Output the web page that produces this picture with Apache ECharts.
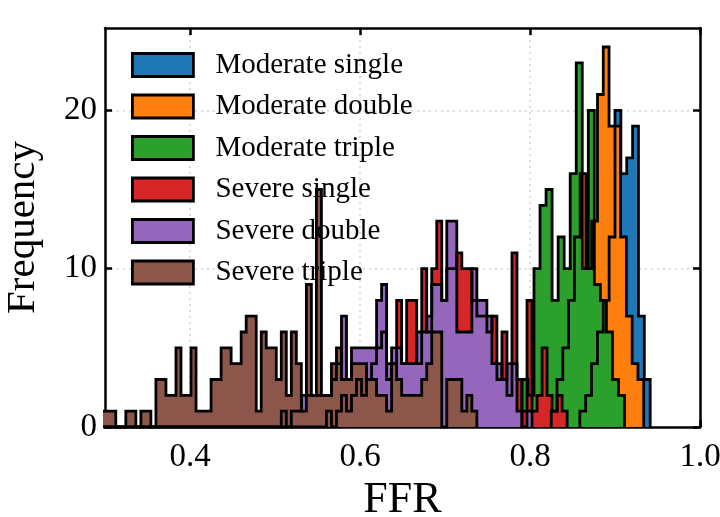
<!DOCTYPE html>
<html><head><meta charset="utf-8">
<script src="https://cdn.jsdelivr.net/npm/echarts@6/dist/echarts.min.js"></script>
<style>html,body{margin:0;padding:0;background:#fff}#c{width:720px;height:517px}</style>
</head><body><div id="c"></div>
<script>
// ---- data ----
const seriesNames = ['Moderate single','Moderate double','Moderate triple','Severe single','Severe double','Severe triple'];
const seriesColors = ['#1f77b4','#ff7f0e','#2ca02c','#d62728','#9467bd','#8c564b'];
const xTicks = [0.4, 0.6, 0.8, 1.0];
const yTicks = [0, 10, 20];

// Moderate single (bin start, bin width, counts)
const modSingleStart = 0.8586, modSingleWidth = 0.0069;
const modSingleCounts = [1, 2, 4, 6, 8, 12, 20, 16, 17, 19, 7, 3];
// Moderate double
const modDoubleStart = 0.8250, modDoubleWidth = 0.0068;
const modDoubleCounts = [1, 3, 5, 8, 12, 16, 10, 13, 21, 24, 19, 19, 12, 7, 4, 3];
// Moderate triple
const modTripleStart = 0.7905, modTripleWidth = 0.0071;
const modTripleCounts = [3, 2, 10, 14, 15, 8, 12, 10, 16, 23, 10, 20, 9, 8, 6, 3, 2];
// Severe bins (shared)
const sevStart = 0.2950, sevWidth = 0.0059;
const sevSingleCounts = [
  0,0,0,0,0,0,0,0,0,0, 0,0,0,0,0,0,0,0,0,0,
  0,0,0,0,0,0,0,0,0,0, 0,0,0,0,0,0,0,0,0,0,
  0,0,0,0,0,1,0,1,2,1, 2,3,2,3,4,5,6,3,4,8,
  4,8,8,4,10,6,10,13,8,10, 10,11,10,10,8,7,7,6,7,3,
  6,2,11,3,1,8,1,2,5,2, 1,2,1];
const sevDoubleCounts = [
  0,0,0,0,0,0,0,0,0,0, 0,0,0,0,0,0,0,0,0,0,
  0,0,0,0,0,0,0,0,0,0, 0,0,0,0,0,0,1,0,1,1,
  2,2,2,2,2,2,3,4,7,3, 5,5,5,5,5,8,9,4,5,5,
  4,4,4,6,6,7,9,9,8,13, 13,6,6,6,10,8,8,7,4,4,
  3,4,4,1,0,1];
const sevTripleCounts = [
  1,1,1,0,0,1,1,0,1,1, 0,3,3,2,2,5,2,2,5,1,
  1,1,3,3,5,5,4,4,6,7, 7,1,6,5,5,3,6,2,6,4,
  1,9,2,15,2,2,4,5,3,3, 4,4,4,3,3,2,2,1,4,3,
  2,2,2,2,3,4,6,6,0,3, 3,3,1,2,1];

// ---- build stepfilled outlines from bins ----
function stepPath(start, width, counts) {
  const edge = i => +(start + i * width).toFixed(5);
  const pts = [[edge(0), 0]];
  counts.forEach((c, i) => { pts.push([edge(i), c], [edge(i + 1), c]); });
  pts.push([edge(counts.length), 0]);
  return pts;
}
const paths = [
  stepPath(modSingleStart, modSingleWidth, modSingleCounts),
  stepPath(modDoubleStart, modDoubleWidth, modDoubleCounts),
  stepPath(modTripleStart, modTripleWidth, modTripleCounts),
  stepPath(sevStart, sevWidth, sevSingleCounts),
  stepPath(sevStart, sevWidth, sevDoubleCounts),
  stepPath(sevStart, sevWidth, sevTripleCounts)
];

const FONT = 'Liberation Serif';
const axisLineStyle = { color: '#000', width: 2.5 };
const gridLine = { show: true, lineStyle: { type: [2, 4], color: '#d4d4d4', width: 1.6 } };

const chart = echarts.init(document.getElementById('c'), null, { renderer: 'canvas' });
chart.setOption({
  animation: false,
  backgroundColor: '#fff',
  grid: { left: 105, right: 20, top: 28, bottom: 90, containLabel: false, outerBoundsMode: 'none' },
  legend: {
    orient: 'vertical', left: 126, top: 45.5, icon: 'rect',
    itemWidth: 61, itemHeight: 23, itemGap: 12.5,
    selectedMode: false,
    itemStyle: { borderColor: '#000', borderWidth: 2.8 },
    textStyle: { fontFamily: FONT, fontSize: 29, color: '#000', lineHeight: 29, padding: [0, 0, 0, 17] },
    data: seriesNames.map((n, i) => ({ name: n, itemStyle: { color: seriesColors[i], borderColor: '#000', borderWidth: 2.8 } }))
  },
  xAxis: [{
    type: 'value', min: 0.3, max: 1.0, position: 'bottom',
    axisLine: { show: true, onZero: false, lineStyle: axisLineStyle },
    axisTick: { show: true, inside: true, length: 7, lineStyle: axisLineStyle, customValues: xTicks },
    axisLabel: { customValues: xTicks, formatter: v => v.toFixed(1), fontFamily: FONT, fontSize: 33, color: '#000', margin: 14 },
    splitLine: gridLine,
    name: 'FFR', nameLocation: 'middle', nameGap: 47,
    nameTextStyle: { fontFamily: FONT, fontSize: 44, color: '#000' }
  }, {
    type: 'value', min: 0.3, max: 1.0, position: 'top',
    axisLine: { show: true, onZero: false, lineStyle: axisLineStyle },
    axisTick: { show: true, inside: true, length: 7, lineStyle: axisLineStyle, customValues: xTicks },
    axisLabel: { show: false }, splitLine: { show: false }
  }],
  yAxis: [{
    type: 'value', min: 0, max: 25.2, position: 'left',
    axisLine: { show: true, onZero: false, lineStyle: axisLineStyle },
    axisTick: { show: true, inside: true, length: 7, lineStyle: axisLineStyle, customValues: yTicks },
    axisLabel: { customValues: yTicks, fontFamily: FONT, fontSize: 33, color: '#000', margin: 8 },
    splitLine: gridLine,
    name: 'Frequency', nameLocation: 'middle', nameGap: 61, nameRotate: 90,
    nameTextStyle: { fontFamily: FONT, fontSize: 41, color: '#000' }
  }, {
    type: 'value', min: 0, max: 25.2, position: 'right',
    axisLine: { show: true, onZero: false, lineStyle: axisLineStyle },
    axisTick: { show: true, inside: true, length: 7, lineStyle: axisLineStyle, customValues: yTicks },
    axisLabel: { show: false }, splitLine: { show: false }
  }],
  series: paths.map((p, i) => ({
    name: seriesNames[i], type: 'line', data: p,
    xAxisIndex: 0, yAxisIndex: 0,
    showSymbol: false, symbol: 'none', clip: true,
    itemStyle: { color: seriesColors[i] },
    lineStyle: { color: '#000', width: 2.8, join: 'miter' },
    areaStyle: { color: seriesColors[i], opacity: 1 },
    emphasis: { disabled: true }
  }))
});
</script></body></html>
